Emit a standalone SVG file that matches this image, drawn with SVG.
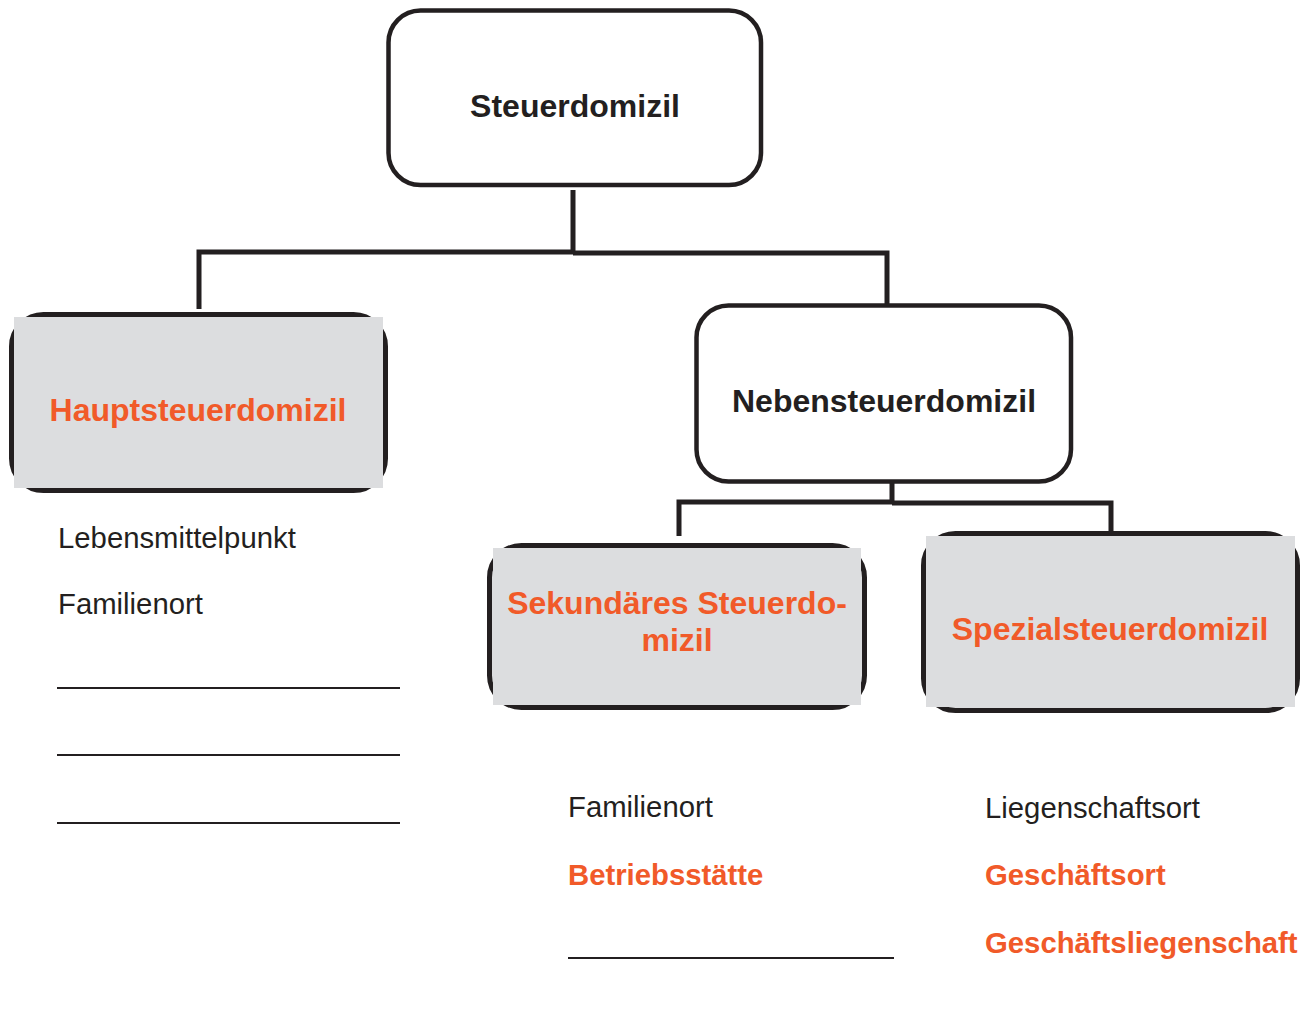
<svg xmlns="http://www.w3.org/2000/svg" width="1308" height="1023" viewBox="0 0 1308 1023">
<style>
.box{fill:#ffffff;stroke:#231f20;stroke-width:4.5}
.gbox{fill:#dcdddf;stroke:#231f20;stroke-width:5}
.gfill{fill:#dcdddf}
.lbl{font-family:"Liberation Sans",Arial,sans-serif;font-weight:bold;font-size:32px;text-anchor:middle}
.blk{fill:#231f20}
.org{fill:#f15a29}
.item{font-family:"Liberation Sans",Arial,sans-serif;font-size:29.3px;fill:#231f20}
.itemb{font-family:"Liberation Sans",Arial,sans-serif;font-size:29.3px;font-weight:bold;fill:#f15a29}
.conn{fill:none;stroke:#231f20;stroke-width:5;stroke-linejoin:miter}
.rule{stroke:#231f20;stroke-width:2}
</style>
<rect width="1308" height="1023" fill="#ffffff"/>
<g id="connectors">
<path class="conn" d="M199,309 V252 H573 V190"/>
<path class="conn" d="M573,253 H887 V305"/>
<path class="conn" d="M679,536 V502 H892 V483"/>
<path class="conn" d="M892,503 H1111 V532"/>
</g>
<g id="steuerdomizil">
<rect class="box" x="388.5" y="10.5" width="372.5" height="174.5" rx="32"/>
<text class="lbl blk" x="575" y="117">Steuerdomizil</text>
</g>
<g id="hauptsteuerdomizil">
<rect class="gbox" x="11.5" y="314.5" width="374" height="176" rx="32"/>
<rect class="gfill" x="14" y="317" width="369" height="171"/>
<text class="lbl org" x="198" y="421">Hauptsteuerdomizil</text>
</g>
<g id="nebensteuerdomizil">
<rect class="box" x="696.5" y="305.5" width="374.5" height="176" rx="32"/>
<text class="lbl blk" x="884" y="412">Nebensteuerdomizil</text>
</g>
<g id="sekundaeres">
<rect class="gbox" x="489.5" y="545.5" width="375" height="162" rx="32"/>
<rect class="gfill" x="493" y="548" width="368" height="157"/>
<text class="lbl org" x="677" y="614">Sekundäres Steuerdo-</text>
<text class="lbl org" x="677" y="651">mizil</text>
</g>
<g id="spezialsteuerdomizil">
<rect class="gbox" x="923.5" y="533.5" width="374" height="177" rx="32"/>
<rect class="gfill" x="926" y="536" width="369" height="171"/>
<text class="lbl org" x="1110" y="640">Spezialsteuerdomizil</text>
</g>
<g id="list-haupt">
<text class="item" x="58" y="548">Lebensmittelpunkt</text>
<text class="item" x="58" y="614">Familienort</text>
<line class="rule" x1="57" y1="688" x2="400" y2="688"/>
<line class="rule" x1="57" y1="755" x2="400" y2="755"/>
<line class="rule" x1="57" y1="823" x2="400" y2="823"/>
</g>
<g id="list-sekundaer">
<text class="item" x="568" y="817">Familienort</text>
<text class="itemb" x="568" y="885">Betriebsstätte</text>
<line class="rule" x1="568" y1="958" x2="894" y2="958"/>
</g>
<g id="list-spezial">
<text class="item" x="985" y="818">Liegenschaftsort</text>
<text class="itemb" x="985" y="885">Geschäftsort</text>
<text class="itemb" x="985" y="953">Geschäftsliegenschaft</text>
</g>
</svg>
